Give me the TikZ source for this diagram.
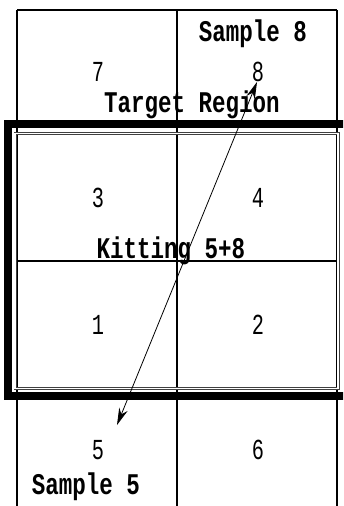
\documentclass[tikz,border=0pt]{standalone}
\usepackage{fontspec}
\setmonofont{Liberation Mono}
\usetikzlibrary{arrows.meta}
\newcommand{\narrow}[1]{\scalebox{0.75}[1]{#1}}
\newcommand{\narrowd}[1]{\scalebox{0.7}[1]{#1}}
\begin{document}
\begin{tikzpicture}[x=1pt,y=-1pt,
  grid/.style={line width=1.1pt,black},
  cellnum/.style={font=\ttfamily\fontsize{29}{29}\selectfont, inner sep=0pt},
  boldlbl/.style={font=\ttfamily\bfseries\fontsize{30}{30}\selectfont, inner sep=0pt},
  linkarrow/.style={line width=0.8pt, {Stealth[length=17pt,width=9pt]}-{Stealth[length=17pt,width=9pt]}}]
\useasboundingbox (0,0) rectangle (343,506);
\clip (0,0) rectangle (343,506);
\fill[white] (0,0) rectangle (343,506);
% grid
\draw[grid] (17,10) -- (337,10);
\draw[grid] (17,10) -- (17,506);
\draw[grid] (177,10) -- (177,506);
\draw[grid] (337,10) -- (337,506);
\draw[grid] (17,261) -- (337,261);
% target region frame
\draw[line width=8pt] (8,124) rectangle (360,396);
\draw[line width=0.7pt, black!75, double=white, double distance=1.6pt] (15,133.5) rectangle (338,388.5);
% labels
\node[cellnum] (n7) at (98,72) {\narrowd{7}};
\node[cellnum] (n8) at (258,72) {\narrowd{8}};
\node[cellnum] (n3) at (98,198) {\narrowd{3}};
\node[cellnum] (n4) at (258,198) {\narrowd{4}};
\node[cellnum] (n1) at (98,325) {\narrowd{1}};
\node[cellnum] (n2) at (258,325) {\narrowd{2}};
\node[cellnum] (n5) at (98,450) {\narrowd{5}};
\node[cellnum] (n6) at (258,450) {\narrowd{6}};
\node[boldlbl] (s8) at (253,34) {\narrow{Sample 8}};
\node[boldlbl] (tr) at (192,105) {\narrow{Target Region}};
\node[boldlbl] (kt) at (171,251) {\narrow{Kitting 5+8}};
\node[boldlbl] (s5) at (86,487) {\narrow{Sample 5}};
% arrow
\coordinate (a8) at (257,82);
\coordinate (a5) at (117,425);
\draw[linkarrow] (a5) -- (a8);
\end{tikzpicture}
\end{document}
